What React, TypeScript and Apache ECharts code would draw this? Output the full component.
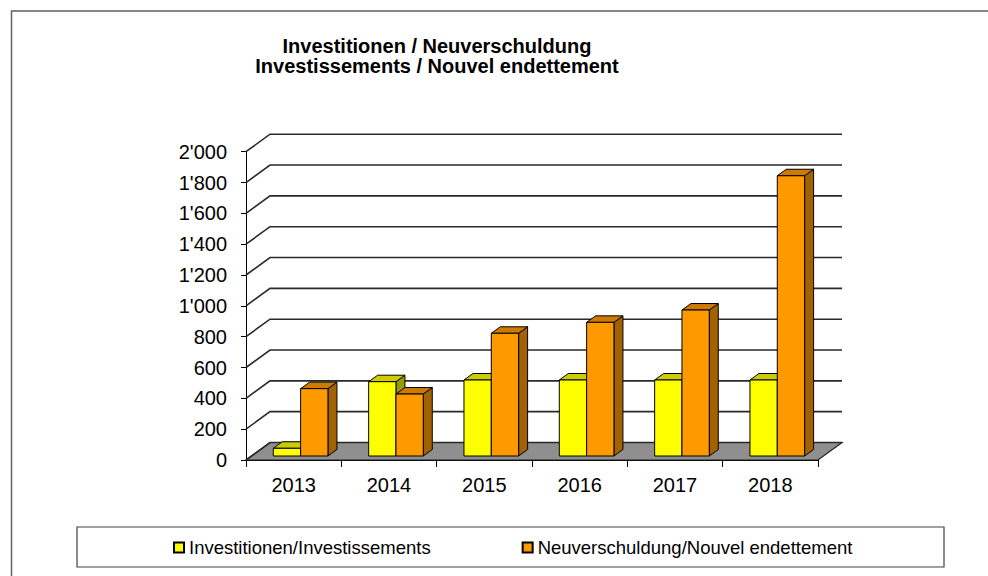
import React, { useEffect, useRef } from "react";
import * as echarts from "echarts";

const years = ["2013", "2014", "2015", "2016", "2017", "2018"];
const investitionen = [50, 482, 493, 493, 493, 493];
const neuverschuldung = [437, 402, 796, 867, 947, 1818];
const yTicks = [0, 200, 400, 600, 800, 1000, 1200, 1400, 1600, 1800, 2000];
const seriesNames = ["Investitionen/Investissements", "Neuverschuldung/Nouvel endettement"];
const titleLines = ["Investitionen / Neuverschuldung", "Investissements / Nouvel endettement"];

const FONT = "'Liberation Sans', Arial, Helvetica, sans-serif";
// wall depth offset
const WX = 24;
const WY = -17.5;
// bar depth offset
const BX = 9;
const BY = -6.5;
const LIFT = 4;
const SLOT = 0.2865;

const fmt = (v: number) => String(v).replace(/\B(?=(\d{3})+(?!\d))/g, "'");

function barSeries(name: string, values: number[], slot: number, front: string, topc: string, side: string) {
  return {
    type: "custom",
    name,
    z: 3,
    data: values.map((v, i) => [i, v]),
    encode: { x: 0, y: 1 },
    itemStyle: { color: front },
    renderItem: (params: any, api: any) => {
      const i = api.value(0);
      const v = api.value(1);
      const top = api.coord([i, v]);
      const base = api.coord([i, 0]);
      const bw = api.size([1, 0])[0];
      const x0 = base[0] - bw / 2;
      const left = x0 + bw * SLOT * (1 + slot);
      const w = bw * SLOT;
      const yb = base[1] - LIFT;
      const yt = top[1] - LIFT;
      const st = { stroke: "#000", lineWidth: 1, lineJoin: "round" };
      return {
        type: "group",
        children: [
          {
            type: "polygon",
            shape: { points: [[left + w, yb], [left + w + BX, yb + BY], [left + w + BX, yt + BY], [left + w, yt]] },
            style: { fill: side, ...st },
          },
          {
            type: "polygon",
            shape: { points: [[left, yt], [left + BX, yt + BY], [left + w + BX, yt + BY], [left + w, yt]] },
            style: { fill: topc, ...st },
          },
          {
            type: "rect",
            shape: { x: left, y: yt, width: w, height: yb - yt },
            style: { fill: front, ...st },
          },
        ],
      };
    },
  };
}

export default function App() {
  const ref = useRef<HTMLDivElement>(null);
  useEffect(() => {
    if (!ref.current) return;
    const chart = echarts.init(ref.current, undefined, { renderer: "svg" });
    const option: any = {
      animation: false,
      backgroundColor: "#fff",
      textStyle: { fontFamily: FONT },
      grid: { left: 246, top: 151.7, width: 572, height: 308.3 },
      xAxis: {
        type: "category",
        data: years,
        boundaryGap: true,
        axisLine: { show: true, lineStyle: { color: "#000", width: 1 } },
        axisTick: { show: true, length: 7, lineStyle: { color: "#000" } },
        axisLabel: { fontSize: 20, color: "#000", margin: 15, fontFamily: FONT },
        splitLine: { show: false },
      },
      yAxis: {
        type: "value",
        min: 0,
        max: 2000,
        interval: 200,
        axisLine: { show: true, lineStyle: { color: "#000", width: 1 } },
        axisTick: { show: true, length: 5, lineStyle: { color: "#000" } },
        axisLabel: { fontSize: 20, color: "#000", margin: 19, fontFamily: FONT, formatter: (v: number) => fmt(v) },
        splitLine: { show: false },
      },
      legend: {
        data: seriesNames,
        left: 173,
        top: 538,
        padding: 0,
        itemGap: 91,
        itemWidth: 10,
        itemHeight: 10,
        icon: "rect",
        itemStyle: { borderColor: "#000", borderWidth: 2 },
        textStyle: { fontSize: 18.5, color: "#000", fontFamily: FONT, lineHeight: 18 },
        selectedMode: false,
      },
      graphic: [
        {
          type: "rect",
          z: -10,
          shape: { x: 11.5, y: 11, width: 1000, height: 600 },
          style: { fill: "none", stroke: "#606060", lineWidth: 1.5 },
        },
        {
          type: "rect",
          z: -10,
          shape: { x: 77, y: 527, width: 867, height: 40 },
          style: { fill: "#fff", stroke: "#404040", lineWidth: 1.2 },
        },
        {
          type: "text",
          x: 437,
          y: 36.4,
          style: {
            text: titleLines.join("\n"),
            font: `bold 20px ${FONT}`,
            fill: "#000",
            textAlign: "center",
            textVerticalAlign: "top",
            lineHeight: 20,
          },
        },
      ],
      series: [
        {
          type: "custom",
          name: "wall",
          silent: true,
          z: 1,
          data: yTicks.map((v) => [0, v]),
          encode: { x: 0, y: 1 },
          renderItem: (params: any, api: any) => {
            const v = api.value(1);
            const p = api.coord([0, v]);
            const cs = params.coordSys;
            const xl = cs.x;
            const xr = cs.x + cs.width;
            const y = p[1];
            const children: any[] = [];
            if (v === 0) {
              children.push({
                type: "polygon",
                shape: { points: [[xl, y], [xl + WX, y + WY], [xr + WX, y + WY], [xr, y]] },
                style: { fill: "#8f8f8f", stroke: "#222", lineWidth: 1.2 },
              });
            }
            children.push({
              type: "polyline",
              shape: { points: [[xl, y], [xl + WX, y + WY], [xr + WX, y + WY]] },
              style: { stroke: "#2a2a2a", lineWidth: 1.6, fill: "none" },
            });
            return { type: "group", children };
          },
        },
        barSeries(seriesNames[0], investitionen, 0, "#ffff00", "#cccc00", "#999900"),
        barSeries(seriesNames[1], neuverschuldung, 1, "#ff9900", "#cc7a00", "#a36200"),
      ],
    };
    chart.setOption(option);
    return () => chart.dispose();
  }, []);
  return (
    <div
      ref={ref}
      style={{ position: "fixed", left: 0, top: 0, width: 988, height: 576 }}
    />
  );
}
